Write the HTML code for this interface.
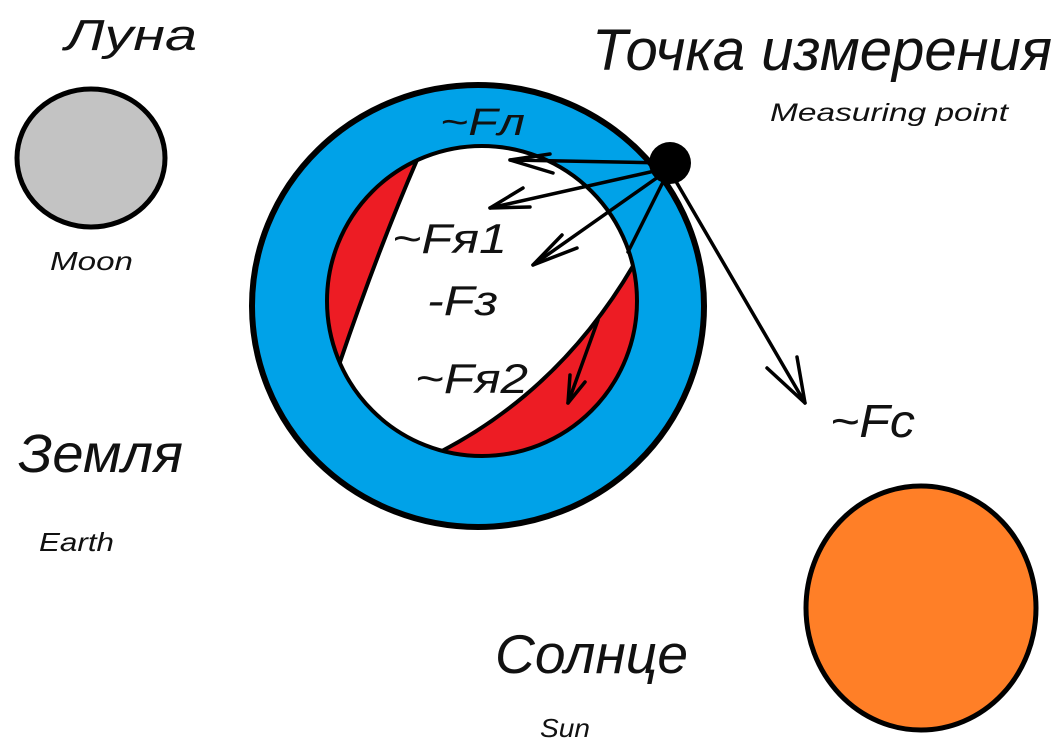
<!DOCTYPE html>
<html><head><meta charset="utf-8"><style>
html,body{margin:0;padding:0;background:#fff}
svg{display:block}
text{font-family:"Liberation Sans","DejaVu Sans",sans-serif;font-style:italic;fill:#111}
</style></head><body>
<svg width="1061" height="747" viewBox="0 0 1061 747" xmlns="http://www.w3.org/2000/svg">
<defs>
<clipPath id="inner"><circle cx="482" cy="301" r="155"/></clipPath>
</defs>
<!-- Moon -->
<ellipse cx="91" cy="158" rx="74" ry="69" fill="#c3c3c3" stroke="#000" stroke-width="5"/>
<!-- Sun -->
<ellipse cx="921" cy="608" rx="115" ry="122" fill="#ff7f27" stroke="#000" stroke-width="5"/>
<!-- Earth -->
<ellipse cx="478" cy="306" rx="226" ry="221" fill="#00a2e8" stroke="#000" stroke-width="6"/>
<circle cx="482" cy="301" r="155" fill="#ed1c24"/>
<g clip-path="url(#inner)">
<path d="M417 160 Q378 250 340 362 L300 420 L440 480 L440 452 Q560 390 633 266 L660 100 L417 100 Z" fill="#fff" stroke="#000" stroke-width="4"/>
</g>
<circle cx="482" cy="301" r="155" fill="none" stroke="#000" stroke-width="4"/>
<!-- arrows -->
<g stroke="#000" stroke-width="3.5" fill="none" stroke-linecap="round" stroke-linejoin="round">
<line x1="668" y1="163" x2="510" y2="160"/>
<path d="M550 154 L510 160 L553 173"/>
<line x1="668" y1="168" x2="490" y2="208"/>
<path d="M523 188 L490 208 L530 207"/>
<line x1="668" y1="170" x2="533" y2="265"/>
<path d="M562 235 L533 265 L577 248"/>
<line x1="668" y1="172" x2="628" y2="252"/>
<line x1="598" y1="320" x2="568" y2="403"/>
<path d="M570 375 L568 403 L585 382"/>
<line x1="674" y1="178" x2="805" y2="403"/>
<path d="M767 368 L805 403 L797 357"/>
</g>
<circle cx="670" cy="163" r="21" fill="#000"/>
<!-- labels -->
<text x="65" y="50" font-size="44" textLength="132" lengthAdjust="spacingAndGlyphs">Луна</text>
<text x="592" y="70" font-size="58" textLength="460" lengthAdjust="spacingAndGlyphs">Точка измерения</text>
<text x="770" y="121" font-size="25" textLength="238" lengthAdjust="spacingAndGlyphs">Measuring point</text>
<text x="50" y="270" font-size="26" textLength="83" lengthAdjust="spacingAndGlyphs">Moon</text>
<text x="18" y="472" font-size="54" textLength="165" lengthAdjust="spacingAndGlyphs">Земля</text>
<text x="39" y="551" font-size="26" textLength="75" lengthAdjust="spacingAndGlyphs">Earth</text>
<text x="495" y="673" font-size="55" textLength="193" lengthAdjust="spacingAndGlyphs">Солнце</text>
<text x="540" y="737" font-size="26" textLength="50" lengthAdjust="spacingAndGlyphs">Sun</text>
<text x="830" y="437" font-size="46" textLength="85" lengthAdjust="spacingAndGlyphs">~Fc</text>
<text x="440" y="135" font-size="38" textLength="85" lengthAdjust="spacingAndGlyphs">~Fл</text>
<text x="392" y="253" font-size="42" textLength="115" lengthAdjust="spacingAndGlyphs">~Fя1</text>
<text x="427" y="315" font-size="42" textLength="71" lengthAdjust="spacingAndGlyphs">-Fз</text>
<text x="415" y="393" font-size="42" textLength="113" lengthAdjust="spacingAndGlyphs">~Fя2</text>
</svg>
</body></html>
